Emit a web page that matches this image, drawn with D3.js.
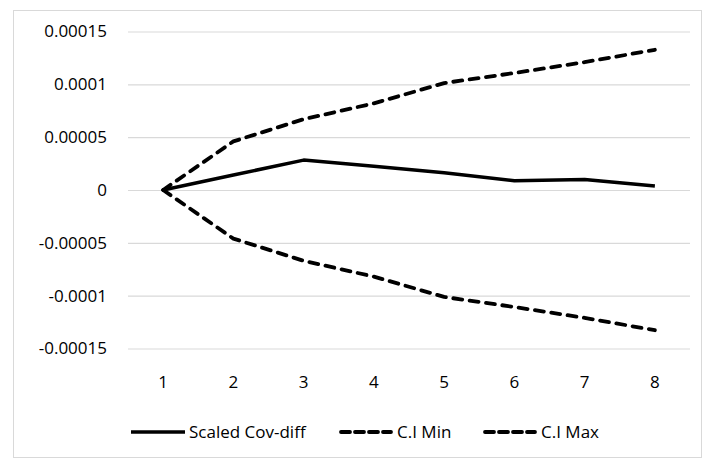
<!DOCTYPE html>
<html>
<head>
<meta charset="utf-8">
<script src="https://cdn.jsdelivr.net/npm/d3@7"></script>
<style>
  body { margin: 0; background: #fff; }
  svg { display: block; font-family: "Open Sans", sans-serif; }
</style>
</head>
<body>
<svg width="702" height="458"></svg>
<script>
const categories = ["1", "2", "3", "4", "5", "6", "7", "8"];
const scaledCovDiff = [0, 0.0000142, 0.0000283, 0.0000225, 0.0000163, 0.0000088, 0.0000100, 0.0000038];
const ciMin = [0, -0.0000460, -0.0000670, -0.0000820, -0.0001012, -0.0001107, -0.0001210, -0.0001327];
const ciMax = [0, 0.0000460, 0.0000670, 0.0000820, 0.0001012, 0.0001107, 0.0001210, 0.0001327];
const yTickValues = [-0.00015, -0.0001, -0.00005, 0, 0.00005, 0.0001, 0.00015];
const yTickLabels = ["-0.00015", "-0.0001", "-0.00005", "0", "0.00005", "0.0001", "0.00015"];
const seriesNames = ["Scaled Cov-diff", "C.I Min", "C.I Max"];

const svg = d3.select("svg");

// outer chart frame
svg.append("rect")
    .attr("x", 13.5)
    .attr("y", 10.5)
    .attr("width", 688)
    .attr("height", 447)
    .attr("fill", "none")
    .attr("stroke", "#d9d9d9")
    .attr("stroke-width", 1);

const left = 128, right = 690;

const x = d3.scaleBand()
    .domain(categories)
    .range([left, right])
    .paddingInner(0)
    .paddingOuter(0);

const y = d3.scaleLinear()
    .domain([-0.00015, 0.00015])
    .range([348.5, 31.5]);

const xc = d => x(d) + x.bandwidth() / 2;

// y axis + gridlines
const yAxis = svg.append("g")
    .attr("transform", `translate(${left},0)`)
    .call(d3.axisLeft(y)
        .tickValues(yTickValues)
        .tickFormat((d, i) => yTickLabels[i])
        .tickSize(-(right - left))
        .tickPadding(21));
yAxis.select(".domain").remove();
yAxis.selectAll(".tick line").attr("stroke", "#d9d9d9").attr("stroke-width", 1.2);
yAxis.selectAll(".tick text")
    .attr("fill", "#000")
    .style("font-size", "17px")
    .style("font-family", "'Open Sans', sans-serif");

// x axis labels
const xAxis = svg.append("g")
    .attr("transform", `translate(0,${y(-0.00015)})`)
    .call(d3.axisBottom(x).tickSize(0).tickPadding(27));
xAxis.select(".domain").remove();
xAxis.selectAll(".tick text")
    .attr("fill", "#000")
    .style("font-size", "17px")
    .style("font-family", "'Open Sans', sans-serif");

const line = d3.line()
    .x((d, i) => xc(categories[i]))
    .y(d => y(d));

const series = [
    { name: seriesNames[0], values: scaledCovDiff, dash: null },
    { name: seriesNames[1], values: ciMin, dash: "9,7.5" },
    { name: seriesNames[2], values: ciMax, dash: "9,7.5" }
];

svg.selectAll("path.series")
    .data(series)
    .enter().append("path")
    .attr("class", "series")
    .attr("d", d => line(d.values))
    .attr("fill", "none")
    .attr("stroke", "#000")
    .attr("stroke-width", d => d.dash ? 3.8 : 3.5)
    .attr("stroke-linejoin", "round")
    .attr("stroke-linecap", d => d.dash ? "round" : "butt")
    .attr("stroke-dasharray", d => d.dash);

// legend
const legendX = [131, 339, 483];
const legend = svg.selectAll("g.legend-item")
    .data(series)
    .enter().append("g")
    .attr("class", "legend-item")
    .attr("transform", (d, i) => `translate(${legendX[i]}, 432)`);

legend.append("line")
    .attr("x1", d => d.dash ? 2 : 0)
    .attr("x2", d => d.dash ? 52 : 54)
    .attr("y1", 0)
    .attr("y2", 0)
    .attr("stroke", "#000")
    .attr("stroke-width", d => d.dash ? 3.8 : 3.5)
    .attr("stroke-linecap", d => d.dash ? "round" : "butt")
    .attr("stroke-dasharray", d => d.dash ? "9,5" : null);

legend.append("text")
    .attr("x", 58)
    .attr("y", 0)
    .attr("dy", "0.35em")
    .style("font-size", "17px")
    .text(d => d.name);
</script>
</body>
</html>
